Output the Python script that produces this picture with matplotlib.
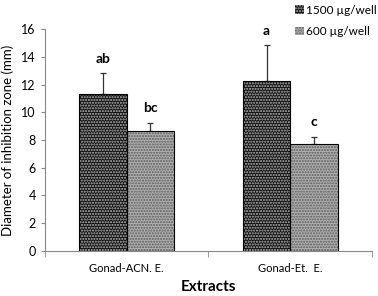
import numpy as np
import matplotlib.pyplot as plt
from matplotlib.patches import Patch

plt.rcParams['font.family'] = ['Lato', 'DejaVu Sans']

categories = ['Gonad-ACN. E.', 'Gonad-Et.  E.']
series = ['1500 µg/well', '600 µg/well']
means_1500 = [11.3, 12.3]
err_1500 = [1.55, 2.55]
means_600 = [8.65, 7.7]
err_600 = [0.6, 0.55]
letters_1500 = ['ab', 'a']
letters_600 = ['bc', 'c']

fig = plt.figure(figsize=(3.78, 2.96), dpi=100)
ax = fig.add_axes([0.119, 0.153, 0.865, 0.748])

x = np.arange(len(categories))
w = 0.29

# dark bars with light dots, grey bars with dark dots
ax.bar(x - w / 2, means_1500, w, color='#111111', edgecolor='#bbbbbb',
       hatch='......', linewidth=0, zorder=2)
ax.bar(x + w / 2, means_600, w, color='#b0b0b0', edgecolor='#5a5a5a',
       hatch='......', linewidth=0, zorder=2)
ax.bar(x - w / 2, means_1500, w, fill=False, edgecolor='black', linewidth=0.8, zorder=3)
ax.bar(x + w / 2, means_600, w, fill=False, edgecolor='black', linewidth=0.8, zorder=3)

ax.errorbar(x - w / 2, means_1500, yerr=[np.zeros(2), err_1500], fmt='none',
            ecolor='#333333', elinewidth=0.9, capsize=2.5, capthick=0.9, zorder=1)
ax.errorbar(x + w / 2, means_600, yerr=[np.zeros(2), err_600], fmt='none',
            ecolor='#333333', elinewidth=0.9, capsize=2.5, capthick=0.9, zorder=1)

for i in range(len(categories)):
    ax.text(x[i] - w / 2, means_1500[i] + err_1500[i] + 0.6, letters_1500[i],
            ha='center', va='bottom', fontsize=10, fontweight='bold')
    ax.text(x[i] + w / 2, means_600[i] + err_600[i] + 0.6, letters_600[i],
            ha='center', va='bottom', fontsize=10, fontweight='bold')

ax.set_xlim(-0.5, 1.5)
ax.set_ylim(0, 16)
ax.set_yticks(range(0, 17, 2))
ax.set_xticks(x)
ax.set_xticklabels(categories, fontsize=8)
ax.set_xticks([-0.5, 0.5, 1.5], minor=True)
ax.tick_params(axis='x', which='major', length=0, pad=9)
ax.tick_params(axis='x', which='minor', length=4, color='#888888')
ax.tick_params(axis='y', labelsize=9, length=3, color='#888888')
for s in ['top', 'right']:
    ax.spines[s].set_visible(False)
for s in ['left', 'bottom']:
    ax.spines[s].set_color('#888888')

ax.set_ylabel('Diameter of inhibition zone (mm)', fontsize=9.5, labelpad=5)
ax.set_xlabel('Extracts', fontsize=11, fontweight='bold', labelpad=4)

handles = [Patch(facecolor='#111111', edgecolor='#bbbbbb', hatch='......', linewidth=0),
           Patch(facecolor='#b0b0b0', edgecolor='#5a5a5a', hatch='......', linewidth=0)]
fig.legend(handles, series, loc='upper right', bbox_to_anchor=(1.025, 1.02),
           frameon=False, fontsize=8.5, handlelength=0.7, handleheight=0.7,
           handletextpad=0.2, labelspacing=0.9)

fig.savefig('out.png', dpi=100)
